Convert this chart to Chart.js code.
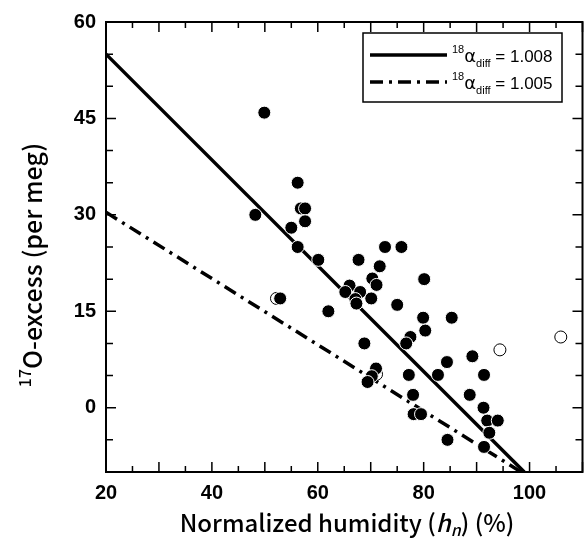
<!DOCTYPE html>
<html>
<head>
<meta charset="utf-8">
<script src="https://cdn.jsdelivr.net/npm/chart.js@4.4.0/dist/chart.umd.min.js"></script>
<style>
  html, body { margin: 0; padding: 0; background: #fff; overflow: hidden; }
  #wrap { width: 590px; height: 539px; }
</style>
</head>
<body>
<div id="wrap"><canvas id="oxChart" width="590" height="539"></canvas></div>
<script>
// humidity (%) and 17O-excess (per meg)
const filledHum = [49.9, 56.2, 56.8, 57.6, 48.2, 57.6, 55.0, 56.2, 60.1, 67.7, 72.7, 75.8,
  71.7, 70.3, 71.1, 66.0, 65.2, 68.0, 67.1, 67.3, 70.1, 80.1, 52.9, 75.0, 62.0, 79.9, 85.3,
  80.3, 77.5, 76.7, 68.8, 89.2, 84.4, 82.7, 77.2, 91.4, 71.0, 70.2, 69.4, 88.7, 78.0, 91.3,
  92.0, 94.0, 92.4, 78.1, 79.5, 84.5, 91.4];
const filledExcess = [45.9, 35.0, 31.0, 31.0, 30.0, 29.0, 28.0, 25.0, 23.0, 23.0, 25.0, 25.0,
  22.0, 20.1, 19.1, 19.0, 18.0, 18.0, 16.9, 16.2, 17.0, 20.0, 17.0, 16.0, 15.0, 14.0, 14.0,
  12.0, 11.0, 10.0, 10.0, 8.0, 7.1, 5.1, 5.1, 5.1, 6.1, 4.9, 4.0, 2.0, 2.0, 0.0,
  -2.0, -2.0, -3.9, -1.0, -1.0, -5.0, -6.1];
const openHum = [52.2, 71.1, 94.4, 105.9];
const openExcess = [17.0, 5.2, 9.0, 11.0];

// model lines
const line1008Hum = [20, 99];
const line1008Excess = [55, -10];
const line1005Hum = [20, 98.4];
const line1005Excess = [30.4, -10];

// tick labels
const xTickVals = [20, 40, 60, 80, 100];
const yTickVals = [0, 15, 30, 45, 60];

const toPts = (xs, ys) => xs.map((x, i) => ({ x: x, y: ys[i] }));

const TITLE_FONT = '"Noto Sans CJK JP", "Noto Sans", sans-serif';

// draws a run of text pieces [text, font, dy] starting at x
function drawRun(ctx, segs, x, y) {
  segs.forEach(s => {
    ctx.font = s[1];
    ctx.fillText(s[0], x, y + s[2]);
    x += ctx.measureText(s[0]).width;
  });
}
function runWidth(ctx, segs) {
  let w = 0;
  segs.forEach(s => { ctx.font = s[1]; w += ctx.measureText(s[0]).width; });
  return w;
}

// inward ticks on all four sides, frame, legend and axis titles
const framePlugin = {
  id: 'frame',
  afterDraw(chart) {
    const ctx = chart.ctx;
    const a = chart.chartArea;
    const xs = chart.scales.x, ys = chart.scales.y;
    ctx.save();
    ctx.strokeStyle = '#000';
    ctx.lineWidth = 2;
    ctx.strokeRect(a.left, a.top, a.right - a.left, a.bottom - a.top);

    ctx.lineWidth = 1.5;
    ctx.beginPath();
    for (let v = 20; v <= 110; v += 5) {
      const px = xs.getPixelForValue(v);
      const len = v % 10 === 0 ? 10 : 6;
      ctx.moveTo(px, a.bottom); ctx.lineTo(px, a.bottom - len);
      ctx.moveTo(px, a.top); ctx.lineTo(px, a.top + len);
    }
    for (let v = -10; v <= 60; v += 5) {
      const py = ys.getPixelForValue(v);
      const len = v % 15 === 0 ? 10 : 7;
      ctx.moveTo(a.left, py); ctx.lineTo(a.left + len, py);
      ctx.moveTo(a.right, py); ctx.lineTo(a.right - len, py);
    }
    ctx.stroke();

    // legend
    ctx.lineWidth = 1.5;
    ctx.fillStyle = '#fff';
    ctx.fillRect(363, 33, 199, 69);
    ctx.strokeRect(363, 33, 199, 69);
    ctx.lineWidth = 3.5;
    ctx.beginPath(); ctx.moveTo(370, 55); ctx.lineTo(447, 55); ctx.stroke();
    ctx.setLineDash([13, 6, 3, 6]);
    ctx.beginPath(); ctx.moveTo(370, 82); ctx.lineTo(447, 82); ctx.stroke();
    ctx.setLineDash([]);
    ctx.fillStyle = '#000';
    ctx.textBaseline = 'alphabetic';
    ctx.textAlign = 'left';
    [['1.008', 62], ['1.005', 89]].forEach(([val, base]) => {
      drawRun(ctx, [
        ['18', '11px "Liberation Sans", sans-serif', -9],
        ['\u03b1', '18px "DejaVu Sans", sans-serif', 0],
        ['diff', '11px "Liberation Sans", sans-serif', 5],
        [' = ' + val, '17px "Liberation Sans", sans-serif', 0]
      ], 452, base);
    });

    // x title
    const xSegs = [
      ['Normalized humidity (', '500 24px ' + TITLE_FONT, 0],
      ['h', 'italic 500 24px ' + TITLE_FONT, 0],
      ['n', 'italic 500 16px ' + TITLE_FONT, 4],
      [') (%)', '500 24px ' + TITLE_FONT, 0]
    ];
    drawRun(ctx, xSegs, 347 - runWidth(ctx, xSegs) / 2, 532);

    // y title
    ctx.translate(42, 265);
    ctx.rotate(-Math.PI / 2);
    const ySegs = [
      ['17', '500 16px ' + TITLE_FONT, -11],
      ['O-excess (per meg)', '500 25px ' + TITLE_FONT, 0]
    ];
    drawRun(ctx, ySegs, -runWidth(ctx, ySegs) / 2, 0);
    ctx.restore();
  }
};

const ctx = document.getElementById('oxChart');
new Chart(ctx, {
  type: 'scatter',
  data: {
    datasets: [
      {
        label: 'alpha 1.008',
        data: toPts(line1008Hum, line1008Excess),
        showLine: true,
        borderColor: '#000',
        borderWidth: 3.5,
        pointRadius: 0,
        order: 3
      },
      {
        label: 'alpha 1.005',
        data: toPts(line1005Hum, line1005Excess),
        showLine: true,
        borderColor: '#000',
        borderWidth: 3.5,
        borderDash: [13, 6, 3, 6],
        pointRadius: 0,
        order: 3
      },
      {
        label: 'open',
        data: toPts(openHum, openExcess),
        backgroundColor: '#fff',
        borderColor: '#000',
        borderWidth: 1,
        pointRadius: 6,
        order: 2
      },
      {
        label: 'filled',
        data: toPts(filledHum, filledExcess),
        backgroundColor: '#000',
        borderColor: '#fff',
        borderWidth: 1,
        pointRadius: 6.5,
        order: 1
      }
    ]
  },
  options: {
    responsive: false,
    animation: false,
    devicePixelRatio: 1,
    layout: { padding: { left: 0, top: 16, right: 2, bottom: 0 } },
    plugins: { legend: { display: false }, tooltip: { enabled: false } },
    scales: {
      x: {
        type: 'linear',
        min: 20,
        max: 110,
        afterBuildTicks: s => { s.ticks = xTickVals.map(v => ({ value: v })); },
        afterFit: s => { s.height = 67; },
        grid: { display: false, drawTicks: false },
        border: { display: false },
        ticks: {
          color: '#000',
          padding: 9,
          maxRotation: 0,
          font: { family: '"Liberation Sans", sans-serif', size: 20, weight: 'bold' }
        }
      },
      y: {
        type: 'linear',
        min: -10,
        max: 60,
        afterBuildTicks: s => { s.ticks = yTickVals.map(v => ({ value: v })); },
        afterFit: s => { s.width = 106; },
        grid: { display: false, drawTicks: false },
        border: { display: false },
        ticks: {
          color: '#000',
          padding: 10,
          font: { family: '"Liberation Sans", sans-serif', size: 20, weight: 'bold' }
        }
      }
    }
  },
  plugins: [framePlugin]
});
</script>
</body>
</html>
